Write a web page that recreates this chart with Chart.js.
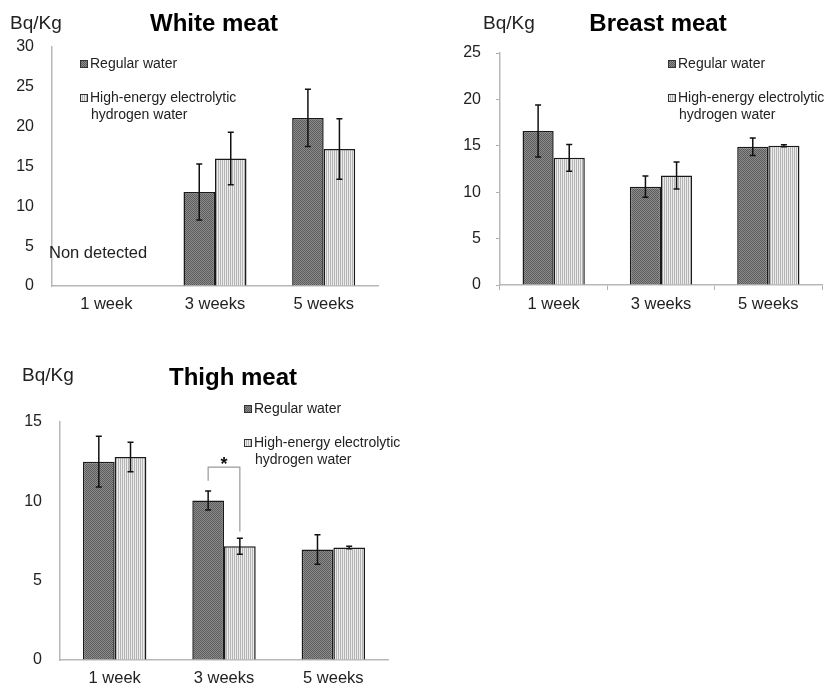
<!DOCTYPE html>
<html>
<head>
<meta charset="utf-8">
<script src="https://cdn.jsdelivr.net/npm/chart.js@4"></script>
<style>
  body { margin: 0; background: #fff; }
  #wrap { position: relative; width: 827px; height: 690px; }
  canvas { position: absolute; }
</style>
</head>
<body>
<div id="wrap">
  <canvas id="whiteChart" width="420" height="320" style="left:0;top:0"></canvas>
  <canvas id="breastChart" width="407" height="320" style="left:420px;top:0"></canvas>
  <canvas id="thighChart" width="420" height="330" style="left:0;top:360px"></canvas>
</div>
<script>
// categories and series
var weeks = ['1 week', '3 weeks', '5 weeks'];
var seriesNames = ['Regular water', 'High-energy electrolytic', 'hydrogen water'];

var whiteRegular = [null, 11.8, 21.1];
var whiteRegularErr = [null, 3.5, 3.6];
var whiteHydrogen = [null, 16.0, 17.2];
var whiteHydrogenErr = [null, 3.3, 3.8];

var breastRegular = [16.6, 10.6, 14.9];
var breastRegularErr = [2.8, 1.15, 0.95];
var breastHydrogen = [13.7, 11.8, 15.0];
var breastHydrogenErr = [1.45, 1.45, 0.1];

var thighRegular = [12.5, 10.05, 6.97];
var thighRegularErr = [1.6, 0.6, 0.93];
var thighHydrogen = [12.8, 7.17, 7.09];
var thighHydrogenErr = [0.93, 0.5, 0.08];

// significance bracket on thigh meat, 3 weeks (value units)
var thighSig = { index: 1, top: 12.15, leftEnd: 11.3, rightEnd: 8.1 };

var FONT = '"Liberation Sans", Arial, sans-serif';

// checker texture for regular water, vertical stripes for hydrogen water
function makePattern(draw) {
    var c = document.createElement('canvas');
    c.width = 2; c.height = 2;
    var g = c.getContext('2d');
    draw(g);
    return g.createPattern(c, 'repeat');
}
var darkFill = makePattern(function (g) {
    g.fillStyle = '#8c8c8c'; g.fillRect(0, 0, 2, 2);
    g.fillStyle = '#5c5c5c'; g.fillRect(0, 0, 1, 1); g.fillRect(1, 1, 1, 1);
});
var lightFill = makePattern(function (g) {
    g.fillStyle = '#ececec'; g.fillRect(0, 0, 2, 2);
    g.fillStyle = '#b4b4b4'; g.fillRect(0, 0, 1, 2);
});

// error bars, titles, legend and notes
var decor = {
    id: 'decor',
    afterDatasetsDraw: function (chart, args, opts) {
        var ctx = chart.ctx;
        var y = chart.scales.y;
        ctx.save();
        chart.data.datasets.forEach(function (ds, i) {
            var meta = chart.getDatasetMeta(i);
            meta.data.forEach(function (bar, j) {
                var v = ds.data[j], e = ds.errors[j];
                if (v == null || e == null) return;
                var t = y.getPixelForValue(v + e), b = y.getPixelForValue(v - e);
                ctx.strokeStyle = '#111';
                ctx.lineWidth = 1.5;
                ctx.beginPath();
                ctx.moveTo(bar.x, t); ctx.lineTo(bar.x, b);
                ctx.moveTo(bar.x - 3, t); ctx.lineTo(bar.x + 3, t);
                ctx.moveTo(bar.x - 3, b); ctx.lineTo(bar.x + 3, b);
                ctx.stroke();
            });
        });

        if (opts.sig) {
            var s = opts.sig;
            var x1 = chart.getDatasetMeta(0).data[s.index].x;
            var x2 = chart.getDatasetMeta(1).data[s.index].x;
            ctx.strokeStyle = '#999';
            ctx.lineWidth = 1.2;
            ctx.beginPath();
            ctx.moveTo(x1, y.getPixelForValue(s.leftEnd));
            ctx.lineTo(x1, y.getPixelForValue(s.top));
            ctx.lineTo(x2, y.getPixelForValue(s.top));
            ctx.lineTo(x2, y.getPixelForValue(s.rightEnd));
            ctx.stroke();
            ctx.fillStyle = '#111';
            ctx.font = 'bold 18px ' + FONT;
            ctx.textAlign = 'center';
            ctx.textBaseline = 'middle';
            ctx.fillText('*', (x1 + x2) / 2, y.getPixelForValue(s.top) - 2);
        }

        // title and unit
        ctx.fillStyle = '#000';
        ctx.textBaseline = 'middle';
        ctx.textAlign = 'center';
        ctx.font = 'bold 24px ' + FONT;
        ctx.fillText(opts.title, opts.titleX, opts.titleY);
        ctx.textAlign = 'left';
        ctx.fillStyle = '#222';
        ctx.font = '19px ' + FONT;
        ctx.fillText('Bq/Kg', opts.unitX, opts.unitY);

        if (opts.note) {
            ctx.font = '16.5px ' + FONT;
            ctx.fillText(opts.note.text, opts.note.x, opts.note.y);
        }

        // legend
        var lx = opts.legendX, ly = opts.legendY;
        ctx.font = '14px ' + FONT;
        [[darkFill, ly], [lightFill, ly + 34]].forEach(function (it) {
            ctx.fillStyle = it[0];
            ctx.fillRect(lx, it[1] - 4, 8, 8);
            ctx.strokeStyle = '#333';
            ctx.lineWidth = 1;
            ctx.strokeRect(lx + 0.5, it[1] - 3.5, 7, 7);
        });
        ctx.fillStyle = '#222';
        ctx.fillText(seriesNames[0], lx + 10, ly);
        ctx.fillText(seriesNames[1], lx + 10, ly + 34);
        ctx.fillText(seriesNames[2], lx + 11, ly + 51);
        ctx.restore();
    }
};

function makeChart(id, reg, regErr, hyd, hydErr, area, yMax, tickMarks, decorOpts) {
    var canvas = document.getElementById(id);
    var W = canvas.width, H = canvas.height;
    return new Chart(canvas.getContext('2d'), {
        type: 'bar',
        data: {
            labels: weeks,
            datasets: [{
                label: 'Regular water',
                data: reg,
                errors: regErr,
                backgroundColor: darkFill,
                borderColor: '#1a1a1a',
                borderWidth: 1.5
            }, {
                label: 'High-energy electrolytic hydrogen water',
                data: hyd,
                errors: hydErr,
                backgroundColor: lightFill,
                borderColor: '#1a1a1a',
                borderWidth: 1.5
            }]
        },
        options: {
            responsive: false,
            animation: false,
            layout: { padding: { left: 0, top: area.top, right: W - area.right, bottom: 0 } },
            datasets: { bar: { categoryPercentage: 0.58, barPercentage: 1.0 } },
            scales: {
                x: {
                    afterFit: function (s) { s.height = H - area.bottom; },
                    grid: { drawOnChartArea: false, drawTicks: tickMarks, tickLength: 5, color: '#b0b0b0' },
                    border: { color: '#b8b8b8', width: 1.5 },
                    ticks: { color: '#222', font: { family: FONT, size: 16.5 }, padding: tickMarks ? 5 : 9 }
                },
                y: {
                    min: 0, max: yMax,
                    afterFit: function (s) { s.width = area.left; },
                    grid: { drawOnChartArea: false, drawTicks: tickMarks, tickLength: 4, color: '#b0b0b0' },
                    border: { color: '#b8b8b8', width: 1.5 },
                    ticks: { stepSize: 5, color: '#222', font: { family: FONT, size: 16 }, padding: tickMarks ? 15 : 18 }
                }
            },
            plugins: {
                legend: { display: false },
                tooltip: { enabled: false },
                decor: decorOpts
            }
        },
        plugins: [decor]
    });
}

makeChart('whiteChart', whiteRegular, whiteRegularErr, whiteHydrogen, whiteHydrogenErr,
    { left: 52, top: 47, right: 378, bottom: 286 }, 30, false,
    { title: 'White meat', titleX: 214, titleY: 24, unitX: 10, unitY: 24,
      legendX: 80, legendY: 64,
      note: { text: 'Non detected', x: 49, y: 253 } });

makeChart('breastChart', breastRegular, breastRegularErr, breastHydrogen, breastHydrogenErr,
    { left: 80, top: 53, right: 402, bottom: 285 }, 25, true,
    { title: 'Breast meat', titleX: 238, titleY: 24, unitX: 63, unitY: 24,
      legendX: 248, legendY: 64 });

makeChart('thighChart', thighRegular, thighRegularErr, thighHydrogen, thighHydrogenErr,
    { left: 60, top: 62, right: 388, bottom: 300 }, 15, false,
    { title: 'Thigh meat', titleX: 233, titleY: 18, unitX: 22, unitY: 16,
      legendX: 244, legendY: 49, sig: thighSig });
</script>
</body>
</html>
